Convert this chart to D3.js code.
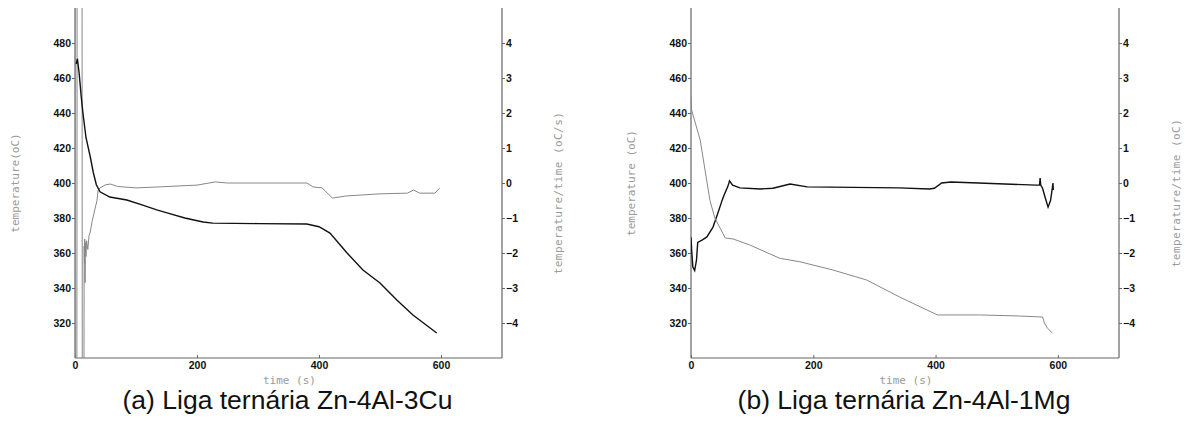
<!DOCTYPE html>
<html>
<head>
<meta charset="utf-8">
<script src="https://cdn.jsdelivr.net/npm/d3@7"></script>
<style>
  body { margin: 0; background: #fff; }
  .tick text { font-family: "Liberation Sans", Arial, sans-serif; font-weight: bold; font-size: 10.5px; fill: #111; }
  .axlab { font-family: "DejaVu Sans Mono", monospace; font-size: 11px; fill: #9a9a9a; }
  .axlab.wide { letter-spacing: 0.45px; }
  .caption { font-family: "Liberation Sans", Arial, sans-serif; font-size: 26.5px; fill: #111; }
</style>
</head>
<body>
<svg width="1185" height="421"></svg>
<script>
// time (s), temperature (oC) and cooling rate (oC/s)
var tempA = [[2,468],[4,471],[7,462],[10,450],[13,440],[18,426],[25,415],[30,406],[35,399],[41,395],[57,392],
  [85,390.3],[111,387.4],[134,384.6],[151,382.9],[180,380],[210,377.7],[226,377.1],[300,376.8],[380,376.6],
  [400,375],[418,371.4],[446,360],[472,350.3],[500,342.9],[528,333],[554,324.6],[593,314.3]];

var rateA = [[0,8],[0.5,-8],[3,-8],[3.5,8],[11.5,8],[12,-8],[14.5,-8],[15,-1.8],[15.5,-2.3],[16,-1.6],
  [16.5,-2.85],[17,-1.7],[18,-2.1],[19,-1.65],[21,-1.9],[23,-1.5],[25,-1.4],[28,-1.1],[32,-0.8],[36,-0.5],
  [38,-0.2],[41,-0.14],[50,-0.05],[58,-0.03],[70,-0.1],[100,-0.14],[140,-0.11],[200,-0.06],[230,0.03],
  [250,0],[380,0],[390,-0.11],[405,-0.14],[422,-0.43],[445,-0.37],[500,-0.31],[545,-0.29],[555,-0.2],
  [565,-0.29],[590,-0.29],[598,-0.14]];

var tempB = [[0,450],[1,441.7],[15,424.6],[31,390],[39,380],[56,368.6],[69,368],[96,364.6],[145,357],
  [178,355],[232,350.3],[287,344.6],[341,334.9],[362,331.4],[403,324.6],[472,324.6],[537,324],[575,323.4],
  [578,320],[583,317],[591,314.3]];

var rateB = [[0,-1.55],[1,-1.9],[3,-2.4],[6,-2.5],[9,-2.2],[11,-1.7],[18,-1.63],[26,-1.54],[36,-1.26],
  [44,-0.86],[51,-0.49],[54,-0.35],[60,-0.11],[62,0],[63,0.06],[68,-0.06],[80,-0.14],[113,-0.17],
  [134,-0.15],[162,-0.03],[190,-0.11],[340,-0.14],[390,-0.17],[398,-0.15],[410,0],[425,0.03],[470,0],
  [565,-0.06],[570,-0.06],[571,0.14],[572,-0.06],[575,-0.15],[579,-0.4],[584,-0.69],[588,-0.5],
  [591,-0.14],[592,0],[592.5,-0.2]];

var timeTicks = [0, 200, 400, 600];
var tempTicks = [320, 340, 360, 380, 400, 420, 440, 460, 480];
var rateTicks = [-4, -3, -2, -1, 0, 1, 2, 3, 4];

var svg = d3.select("svg");
var plotTop = 8, plotBottom = 358;

function panel(id, x0, x1, temp, rate, tempColor, rateColor, leftLab, rightLab, rightLabX, caption) {
  var x = d3.scaleLinear().domain([0, 700]).range([x0, x1]);
  var yT = d3.scaleLinear().domain([300, 500]).range([plotBottom, plotTop]);
  var yR = d3.scaleLinear().domain([-5, 5]).range([plotBottom, plotTop]);

  svg.append("clipPath").attr("id", "clip" + id)
    .append("rect").attr("x", x0).attr("y", plotTop).attr("width", x1 - x0).attr("height", plotBottom - plotTop);

  var g = svg.append("g");

  var ax = g.append("g").attr("transform", "translate(0," + plotBottom + ")")
    .call(d3.axisBottom(x).tickValues(timeTicks).tickSize(-3).tickPadding(4));
  var al = g.append("g").attr("transform", "translate(" + x0 + ",0)")
    .call(d3.axisLeft(yT).tickValues(tempTicks).tickSize(3).tickPadding(1));
  var ar = g.append("g").attr("transform", "translate(" + x1 + ",0)")
    .call(d3.axisRight(yR).tickValues(rateTicks).tickSize(3).tickPadding(1));
  g.selectAll(".domain").attr("stroke", "#666").attr("stroke-width", 1.2);
  g.selectAll(".tick line").attr("stroke", "#666");
  ax.selectAll(".domain").attr("d", "M" + x0 + ",0H" + x1);
  al.selectAll(".domain").attr("d", "M0," + plotTop + "V" + plotBottom);
  ar.selectAll(".domain").attr("d", "M0," + plotTop + "V" + plotBottom);

  var lineT = d3.line().x(function(d) { return x(d[0]); }).y(function(d) { return yT(d[1]); });
  var lineR = d3.line().x(function(d) { return x(d[0]); }).y(function(d) { return yR(d[1]); });

  var plot = g.append("g").attr("clip-path", "url(#clip" + id + ")");
  plot.append("path").datum(rate).attr("d", lineR)
    .attr("fill", "none").attr("stroke", rateColor).attr("stroke-width", rateColor === "#111" ? 1.4 : 1);
  plot.append("path").datum(temp).attr("d", lineT)
    .attr("fill", "none").attr("stroke", tempColor).attr("stroke-width", tempColor === "#111" ? 1.4 : 1);

  g.append("text").attr("class", "axlab")
    .attr("transform", "translate(" + (x0 - 56) + ",183) rotate(-90)")
    .attr("text-anchor", "middle").text(leftLab);
  g.append("text").attr("class", "axlab wide")
    .attr("transform", "translate(" + rightLabX + ",193) rotate(-90)")
    .attr("text-anchor", "middle").text(rightLab);
  g.append("text").attr("class", "axlab")
    .attr("x", x(350) + 1).attr("y", 384).attr("text-anchor", "middle").text("time (s)");
  g.append("text").attr("class", "caption")
    .attr("x", x(350) - 1).attr("y", 409).attr("text-anchor", "middle").text(caption);
}

panel("a", 75, 502, tempA, rateA, "#111", "#888",
  "temperature(oC)", "temperature/time (oC/s)", 562, "(a) Liga ternária Zn-4Al-3Cu");
panel("b", 691, 1119, tempB, rateB, "#888", "#111",
  "temperature (oC)", "temperature/time (oC)", 1180, "(b) Liga ternária Zn-4Al-1Mg");
</script>
</body>
</html>
